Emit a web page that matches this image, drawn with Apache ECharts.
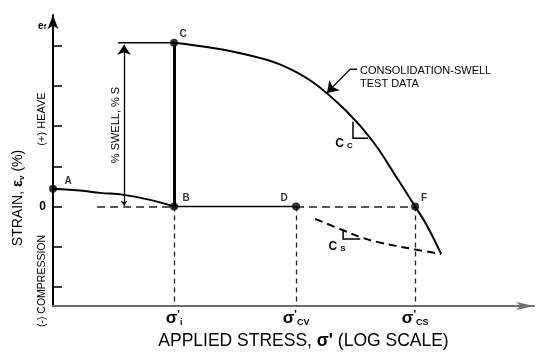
<!DOCTYPE html>
<html>
<head>
<meta charset="utf-8">
<script src="https://cdn.jsdelivr.net/npm/echarts@6/dist/echarts.min.js"></script>
<style>
html, body { margin: 0; padding: 0; background: #fff; }
#chart { width: 550px; height: 355px; }
</style>
</head>
<body>
<div id="chart"></div>
<script>
// stress in log-scale units (arbitrary), strain in %
const pointNames = ['A', 'B', 'C', 'D', 'F']
const pointStress = [0, 24.7, 24.7, 49.6, 73.9]
const pointStrain = [0.44, 0, 4.08, 0, 0]

// seating curve A -> B
const seatStress = [0, 6.1, 9.6, 14.5, 19.8, 24.7]
const seatStrain = [0.44, 0.39, 0.34, 0.29, 0.165, 0]

// consolidation-swell test data C -> F -> end
const curveStress = [24.7, 32.65, 39.6, 46.3, 53.1, 60.0, 65.3, 70.2, 73.9, 76.3, 79.2]
const curveStrain = [4.08, 3.95, 3.78, 3.54, 3.09, 2.36, 1.62, 0.71, 0, -0.47, -1.18]

// rebound (Cs) branch, dashed
const reboundStress = [53.5, 59.2, 62.7, 66.1, 73.9, 79.2]
const reboundStrain = [-0.31, -0.59, -0.76, -0.88, -1.07, -1.18]

const strainTicks = [-2, -1, 0, 1, 2, 3, 4]
const stressTicks = [24.7, 49.6, 73.9]
const stressTickNames = ['i', 'CV', 'CS']
const efStrain = 4.52
const swellStress = 14.5

const yMin = -2.48
const yMax = 4.77
const xMax = 98.16

const FONT = '"Liberation Sans", Arial, sans-serif'
const zip = (xs, ys) => xs.map((x, i) => [x, ys[i]])

const [xA, xB, xC, xD, xF] = pointStress
const yC = pointStrain[2]

const labelOffsets = { A: [15, -8], B: [12, -8], C: [9, -8], D: [-12, -8], F: [9, -8] }

const chart = echarts.init(document.getElementById('chart'))

chart.setOption({
  animation: false,
  backgroundColor: '#fff',
  textStyle: { fontFamily: FONT, color: '#000' },
  grid: { left: 53, right: 16, top: 15, bottom: 45 },
  xAxis: {
    type: 'value',
    min: 0,
    max: xMax,
    axisLine: {
      onZero: false,
      symbol: ['none', 'arrow'],
      symbolSize: [6, 18],
      lineStyle: { color: '#6e6e6e', width: 2 },
    },
    axisTick: { show: false },
    splitLine: { show: false },
    axisLabel: {
      customValues: stressTicks,
      margin: 3,
      formatter: (v) => {
        const i = stressTicks.indexOf(v)
        return '{s|σ}{p|\'}{sub|' + stressTickNames[i] + '}'
      },
      rich: {
        s: { fontSize: 17, fontWeight: 'bold', fontFamily: FONT, color: '#000', verticalAlign: 'bottom', lineHeight: 18 },
        p: { fontSize: 11, fontWeight: 'bold', fontFamily: FONT, color: '#000', verticalAlign: 'top', lineHeight: 18 },
        sub: { fontSize: 9, fontWeight: 'bold', fontFamily: FONT, color: '#000', verticalAlign: 'bottom', lineHeight: 13 },
      },
    },
    name: "APPLIED STRESS, {s|σ'} (LOG SCALE)",
    nameLocation: 'middle',
    nameGap: 25,
    nameTextStyle: {
      fontSize: 17.5,
      fontFamily: FONT,
      color: '#000',
      padding: [0, 0, 0, 20],
      rich: { s: { fontSize: 17.5, fontWeight: 'bold', fontFamily: FONT, color: '#000' } },
    },
  },
  yAxis: {
    type: 'value',
    min: yMin,
    max: yMax,
    axisLine: {
      show: true,
      onZero: false,
      symbol: ['none', 'arrow'],
      symbolSize: [8, 14],
      lineStyle: { color: '#000', width: 2 },
    },
    axisTick: {
      show: true,
      inside: true,
      length: 9,
      customValues: strainTicks,
      lineStyle: { color: '#000', width: 1.5 },
    },
    splitLine: { show: false },
    axisLabel: {
      customValues: [0, efStrain],
      margin: 7,
      formatter: (v) => (v === 0 ? '{z|0}' : '{e|e}{f|f}'),
      rich: {
        z: { fontSize: 12, fontWeight: 'bold', fontFamily: FONT, color: '#000' },
        e: { fontSize: 10, fontWeight: 'bold', fontFamily: FONT, color: '#000', verticalAlign: 'bottom', lineHeight: 12 },
        f: { fontSize: 7, fontWeight: 'bold', fontFamily: FONT, color: '#000', verticalAlign: 'bottom', lineHeight: 9 },
      },
    },
  },
  graphic: [
    {
      type: 'text', x: 18, y: 198, rotation: Math.PI / 2,
      style: {
        text: 'STRAIN, {e|ε}{v|v} (%)',
        font: '14px ' + FONT, fill: '#000', align: 'center', verticalAlign: 'middle',
        rich: {
          e: { fontSize: 15, fontWeight: 'bold', fontFamily: FONT, fill: '#000' },
          v: { fontSize: 8, fontWeight: 'bold', fontFamily: FONT, fill: '#000', verticalAlign: 'bottom', lineHeight: 12 },
        },
      },
    },
    {
      type: 'text', x: 42, y: 119, rotation: Math.PI / 2,
      style: { text: '(+) HEAVE', font: '11px ' + FONT, fill: '#000', align: 'center', verticalAlign: 'middle' },
    },
    {
      type: 'text', x: 42, y: 281, rotation: Math.PI / 2,
      style: { text: '(-) COMPRESSION', font: '10.5px ' + FONT, fill: '#000', align: 'center', verticalAlign: 'middle' },
    },
    {
      type: 'text', x: 116, y: 125, rotation: Math.PI / 2,
      style: { text: '% SWELL, % S', font: '11px ' + FONT, fill: '#000', align: 'center', verticalAlign: 'middle' },
    },
    {
      type: 'text', x: 360, y: 64,
      style: { text: 'CONSOLIDATION-SWELL\nTEST DATA', font: '11px ' + FONT, fill: '#000', lineHeight: 13 },
    },
    {
      type: 'text', x: 344, y: 144,
      style: {
        text: '{c|C}{s|C}', fill: '#000', align: 'center', verticalAlign: 'middle',
        rich: {
          c: { fontSize: 12, fontWeight: 'bold', fontFamily: FONT, fill: '#000', verticalAlign: 'bottom', lineHeight: 12 },
          s: { fontSize: 8, fontWeight: 'bold', fontFamily: FONT, fill: '#000', verticalAlign: 'bottom', lineHeight: 8, padding: [0, 0, 0, 3] },
        },
      },
    },
    {
      type: 'text', x: 337, y: 247,
      style: {
        text: '{c|C}{s|S}', fill: '#000', align: 'center', verticalAlign: 'middle',
        rich: {
          c: { fontSize: 12, fontWeight: 'bold', fontFamily: FONT, fill: '#000', verticalAlign: 'bottom', lineHeight: 12 },
          s: { fontSize: 8, fontWeight: 'bold', fontFamily: FONT, fill: '#000', verticalAlign: 'bottom', lineHeight: 8, padding: [0, 0, 0, 3] },
        },
      },
    },
  ],
  series: [
    {
      // seating curve A-B
      type: 'line', data: zip(seatStress, seatStrain), smooth: 0.4, symbol: 'none',
      lineStyle: { color: '#000', width: 2 },
    },
    {
      // consolidation-swell curve
      type: 'line', data: zip(curveStress, curveStrain), smooth: 0.4, symbol: 'none',
      lineStyle: { color: '#000', width: 2 },
    },
    {
      // rebound branch
      type: 'line', data: zip(reboundStress, reboundStrain), smooth: 0.4, symbol: 'none',
      lineStyle: { color: '#000', width: 2, type: [8, 5] },
    },
    {
      // thin solid helpers
      type: 'lines', coordinateSystem: 'cartesian2d', polyline: true, silent: true,
      lineStyle: { color: '#000', width: 1.5, opacity: 1 },
      data: [
        { coords: [[xB, 0], [xD, 0]] },
        { coords: [[13.3, yC], [xC, yC]] },
        { coords: [[62.04, 3.42], [60.61, 3.42]] },
        { coords: [[61.22, 2.11], [61.22, 1.7], [64.29, 1.7]] },
        { coords: [[59.2, -0.59], [59.2, -0.81], [62.7, -0.81]] },
      ],
    },
    {
      // B-C
      type: 'lines', coordinateSystem: 'cartesian2d', silent: true,
      lineStyle: { color: '#000', width: 3, opacity: 1 },
      data: [{ coords: [[xB, 0], [xC, yC]] }],
    },
    {
      // dashed horizontal at zero strain
      type: 'lines', coordinateSystem: 'cartesian2d', silent: true,
      lineStyle: { color: '#222', width: 1.5, type: [8, 5], opacity: 1 },
      data: [
        { coords: [[9, 0], [xB, 0]] },
        { coords: [[xD, 0], [xF, 0]] },
      ],
    },
    {
      // dashed drop lines to stress axis
      type: 'lines', coordinateSystem: 'cartesian2d', silent: true,
      lineStyle: { color: '#222', width: 1.3, type: [5, 4], opacity: 1 },
      data: stressTicks.map((x) => ({ coords: [[x, 0], [x, yMin]] })),
    },
    {
      // % swell arrow
      type: 'lines', coordinateSystem: 'cartesian2d', silent: true,
      symbol: ['arrow', 'arrow'], symbolSize: [5, 10],
      lineStyle: { color: '#000', width: 1.3, opacity: 1 },
      data: [{ coords: [[swellStress, 0.02], [swellStress, yC - 0.05]] }],
    },
    {
      // leader arrow to the curve
      type: 'lines', coordinateSystem: 'cartesian2d', silent: true,
      symbol: ['none', 'arrow'], symbolSize: [5, 11],
      lineStyle: { color: '#000', width: 1.3, opacity: 1 },
      data: [{ coords: [[60.61, 3.42], [55.9, 2.83]] }],
    },
    {
      type: 'scatter',
      symbolSize: 8,
      itemStyle: { color: '#000' },
      z: 5,
      data: pointNames.map((n, i) => ({
        name: n,
        value: [pointStress[i], pointStrain[i]],
        label: { offset: labelOffsets[n] },
      })),
      label: {
        show: true,
        position: 'inside',
        formatter: '{b}',
        fontSize: 10,
        fontWeight: 'bold',
        fontFamily: FONT,
        color: '#000',
      },
    },
  ],
})
</script>
</body>
</html>
